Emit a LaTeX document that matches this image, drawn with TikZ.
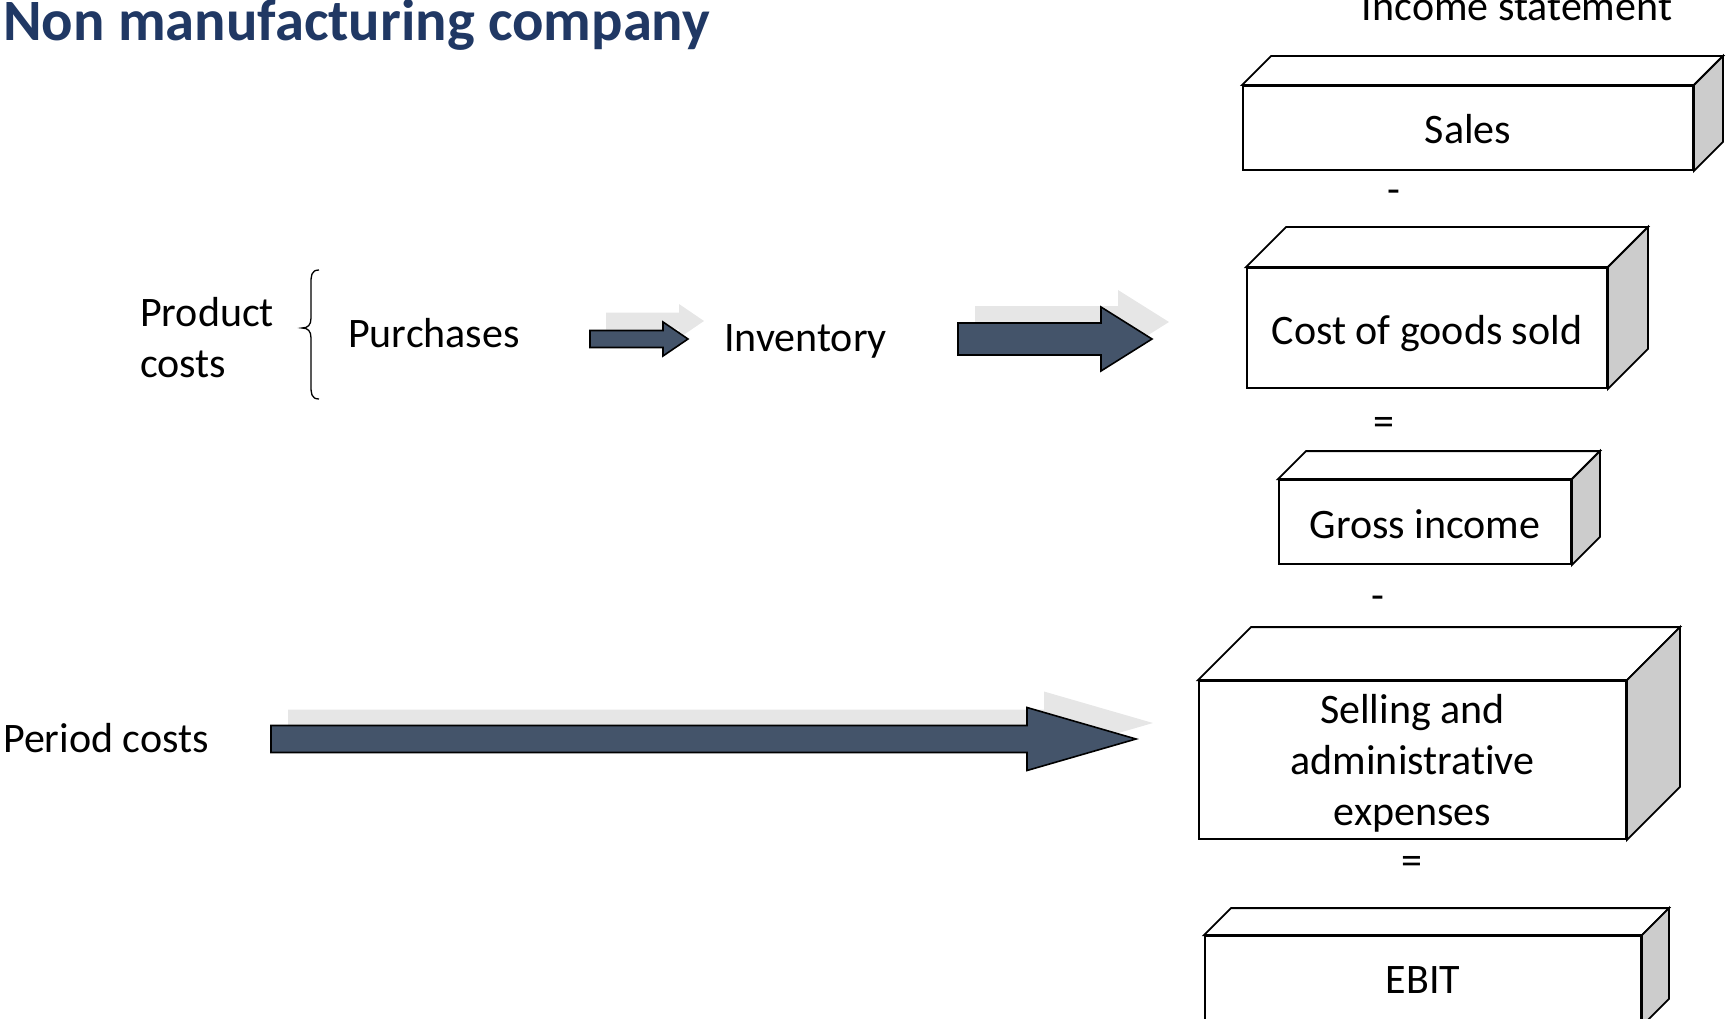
\documentclass[tikz,border=0pt]{standalone}
\usepackage{fontspec}
\setmainfont{Carlito}[RawFeature={-liga}]
\usetikzlibrary{calc}

\definecolor{titleblue}{HTML}{203864}
\definecolor{arrowslate}{HTML}{44546A}
\definecolor{shadowgray}{HTML}{E6E6E6}
\definecolor{sidegray}{HTML}{CCCCCC}

% block arrow: start x, tip x, centre y, shaft half-height, head half-height, head length, shadow shift
\newcommand\blockarrow[7]{%
  \fill[shadowgray,shift={#7}]
    (#1,#3-#4) -- (#2-#6,#3-#4) -- (#2-#6,#3-#5) -- (#2,#3) --
    (#2-#6,#3+#5) -- (#2-#6,#3+#4) -- (#1,#3+#4) -- cycle;
  \draw[arrowbody]
    (#1,#3-#4) -- (#2-#6,#3-#4) -- (#2-#6,#3-#5) -- (#2,#3) --
    (#2-#6,#3+#5) -- (#2-#6,#3+#4) -- (#1,#3+#4) -- cycle;
}

% top and side faces of a box whose front face is node #1, depth #2
\newcommand\boxfaces[2]{%
  \draw[face,fill=white] (#1.north west) -- ++(#2,-#2)
    -- ([shift={(#2,-#2)}]#1.north east) -- (#1.north east) -- cycle;
  \draw[face,fill=sidegray] (#1.north east) -- ++(#2,-#2)
    -- ([shift={(#2,-#2)}]#1.south east) -- (#1.south east) -- cycle;
}

\tikzset{
  lbl/.style={font=\fontsize{42}{51}\selectfont, inner sep=0pt},
  frontbox/.style={draw, line width=1.8pt, fill=white, inner sep=0pt,
    font=\fontsize{42}{51}\selectfont, align=center, line join=miter},
  oneline/.style={text height=#1, text depth=0pt},
  oneline/.default=32pt,
  face/.style={line width=1.8pt, line join=miter},
  arrowbody/.style={fill=arrowslate, draw=black, line width=1.6pt, line join=miter},
  op/.style={font=\fontsize{42}{51}\selectfont, inner sep=0pt},
}

\begin{document}
\begin{tikzpicture}[x=1pt,y=-1pt]
\useasboundingbox (0,0) rectangle (1727,1019);
\clip (0,0) rectangle (1727,1019);

% heading
\node[anchor=base west, inner sep=0pt, text=titleblue,
      font=\fontsize{58.6}{70}\selectfont\bfseries] (title) at (3,41)
      {Non manufacturing company};
\node[lbl, anchor=base] (istmt) at (1517,21) {Income statement};

% income statement boxes
\node[frontbox, oneline, minimum width=450pt, minimum height=84pt] (sales) at (1468,128) {Sales};
\boxfaces{sales}{29}
\node[op] (minusA) at (1394,197) {-};

\node[frontbox, oneline, minimum width=360pt, minimum height=120pt] (cogs) at (1427,328) {Cost of goods sold};
\boxfaces{cogs}{40}
\node[op] (eqA) at (1384,426) {=};

\node[frontbox, oneline, minimum width=292pt, minimum height=84pt] (gross) at (1425,522) {Gross income};
\boxfaces{gross}{28}
\node[op] (minusB) at (1378,603) {-};

\node[frontbox, text depth=0pt, minimum width=427pt, minimum height=158pt] (sga) at (1412.5,760)
  {Selling and\\administrative\\expenses};
\boxfaces{sga}{53}
\node[op] (eqB) at (1412,865) {=};

\node[frontbox, oneline=25pt, minimum width=436pt, minimum height=89pt] (ebit) at (1423,980.5) {EBIT};
\boxfaces{ebit}{27}

% cost flows
\node[lbl, anchor=west, align=left, font=\fontsize{42}{51}\selectfont] (product) at (140,337.5)
  {Product\\costs};
\draw[line width=1.3pt] (319,270) .. controls (311,270) and (311,276) .. (311,284)
  -- (311,318) .. controls (311,325) and (308,328) .. (302,328)
  .. controls (308,328) and (311,331) .. (311,338)
  -- (311,385) .. controls (311,393) and (311,399) .. (319,399);
\node[lbl, anchor=base west] (purch) at (348,347) {Purchases};
\node[lbl, anchor=base west] (inv) at (724,351) {Inventory};
\node[lbl, anchor=base west] (period) at (3,752) {Period costs};

\blockarrow{590}{688}{339}{8.5}{17}{25}{(16,-18)}
\blockarrow{958}{1152}{339}{16}{32}{51}{(17,-17)}
\blockarrow{271}{1136}{739}{13.5}{31.5}{109}{(17,-16)}
\end{tikzpicture}
\end{document}
